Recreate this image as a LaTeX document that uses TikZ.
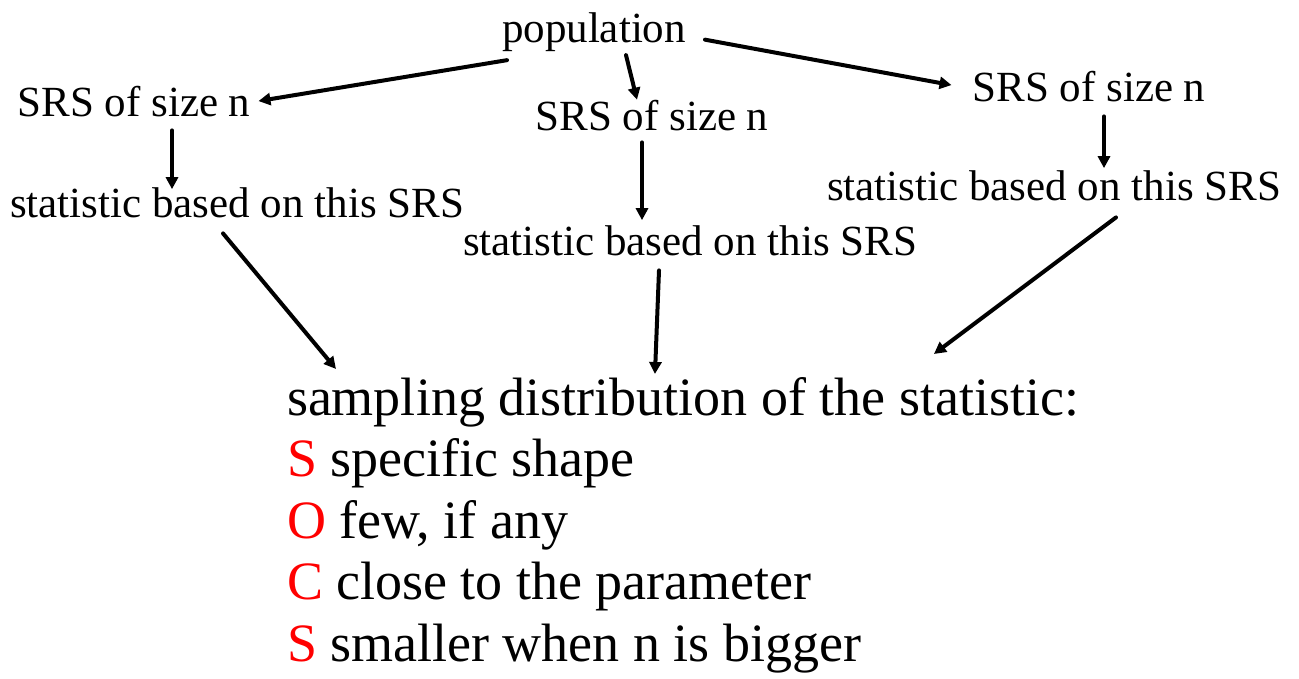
\documentclass[tikz,border=0pt]{standalone}
\usepackage{xcolor}
\usepackage{fontspec}
\setmainfont{Liberation Serif}
\usepackage{tikz}
\usetikzlibrary{calc, arrows.meta, positioning}

\begin{document}
\begin{tikzpicture}[x=1pt, y=-1pt,
    chu/.style={inner sep=0pt, outer sep=0pt, anchor=base, font=\fontsize{43}{43}\selectfont},
    chuto/.style={inner sep=0pt, outer sep=0pt, anchor=base west, font=\fontsize{54}{54}\selectfont},
    muiten/.style={line width=4pt, line cap=round, -{Triangle[length=12pt, width=12pt]}}]
    \useasboundingbox (0,0) rectangle (1299,678);
    % Tổng thể và ba mẫu SRS
    \node[chu] (pop) at (594,42) {population};
    \node[chu] (srsL) at (134,116) {SRS of size n};
    \node[chu] (srsM) at (652,130) {SRS of size n};
    \node[chu] (srsR) at (1089,101) {SRS of size n};
    % Thống kê của từng mẫu
    \node[chu] (statL) at (237,217) {statistic based on this SRS};
    \node[chu] (statM) at (690,255) {statistic based on this SRS};
    \node[chu] (statR) at (1054,200) {statistic based on this SRS};
    % Phân phối mẫu và các dòng S, O, C, S
    \node[chuto] (dist) at (287,415) {sampling distribution of the statistic:};
    \foreach \chucai/\noidung [count=\i] in {S/specific shape, O/{few, if any}, C/close to the parameter, S/smaller when n is bigger}
        \node[chuto] (soc\i) at (287,415+61.5*\i) {\textcolor{red}{\chucai} \noidung};

    % Các mũi tên
    \draw[muiten] ([xshift=5pt, yshift=-9pt]pop.south west) -- ([xshift=8pt]srsL.east);
    \draw[muiten] ([xshift=32pt, yshift=-4pt]pop.south) -- ([xshift=-15pt]srsM.north);
    \draw[muiten] ([xshift=19pt, yshift=-8pt]pop.east) -- ([xshift=-21pt, yshift=1pt]srsR.west);
    \draw[muiten] ([xshift=38pt, yshift=-14pt]srsL.south) -- ([xshift=-65pt, yshift=-2pt]statL.north);
    \draw[muiten] ([xshift=-10pt, yshift=-12pt]srsM.south) -- ([xshift=-48pt, yshift=5pt]statM.north);
    \draw[muiten] ([xshift=15pt, yshift=-15pt]srsR.south) -- ([xshift=50pt, yshift=2pt]statR.north);
    \draw[muiten] ([xshift=-14pt, yshift=-16pt]statL.south) -- ([xshift=49pt, yshift=8pt]dist.north west);
    \draw[muiten] ([xshift=-31pt, yshift=-15pt]statM.south) -- ([xshift=-28pt, yshift=3pt]dist.north);
    \draw[muiten] ([xshift=62pt, yshift=-17pt]statR.south) -- ([xshift=-145pt, yshift=23pt]dist.north east);
\end{tikzpicture}
\end{document}
